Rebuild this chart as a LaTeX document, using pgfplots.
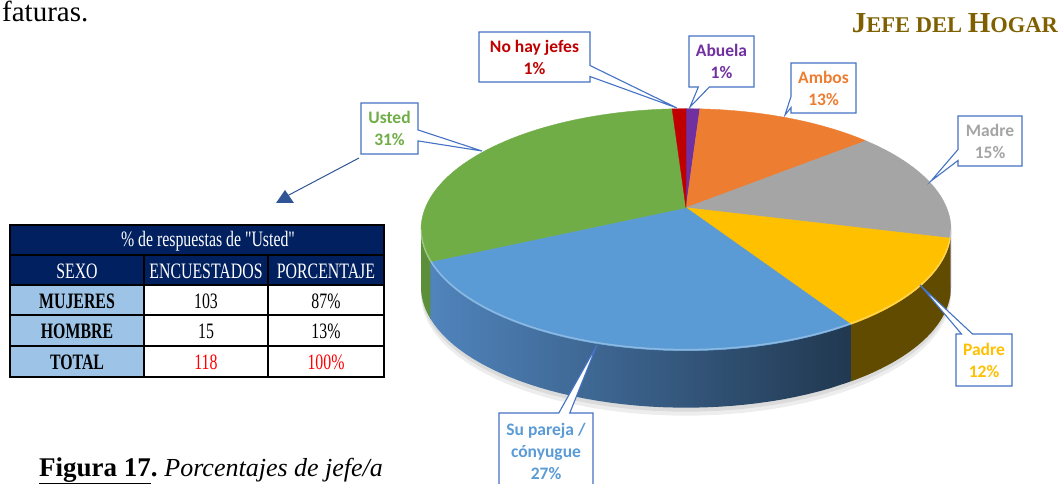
\documentclass[border=0pt]{standalone}
\usepackage{fontspec}
\setmainfont{Liberation Serif}
\newfontfamily\tabserif{Liberation Serif}[Ligatures=TeXOff]
\newfontfamily\calib{Carlito}
\usepackage{graphicx}
\usepackage{pgfplots}
\pgfplotsset{compat=1.18}
\usetikzlibrary{shapes.callouts}

\definecolor{cGreen}{HTML}{70AD47}
\definecolor{cBlue}{HTML}{5B9BD5}
\definecolor{cYellow}{HTML}{FFC000}
\definecolor{cGray}{HTML}{A5A5A5}
\definecolor{cOrange}{HTML}{ED7D31}
\definecolor{cRed}{HTML}{C00000}
\definecolor{cPurple}{HTML}{7030A0}
\definecolor{cBorder}{HTML}{4472C4}
\definecolor{cNavy}{HTML}{002060}
\definecolor{cLight}{HTML}{9DC3E6}
\definecolor{cGold}{HTML}{7F6000}
\definecolor{cArrow}{HTML}{2F5597}

% ---- data (percent of "Jefe del hogar"), clockwise from 12 o'clock ----
\def\pAbuela{1}
\def\pAmbos{13}
\def\pMadre{15}
\def\pPadre{12}
\def\pPareja{27}
\def\pUsted{31}
\def\pNoHay{1}

\pgfmathsetmacro\tA{0}
\pgfmathsetmacro\tB{\tA+3.6*\pAbuela}
\pgfmathsetmacro\tC{\tB+3.6*\pAmbos}
\pgfmathsetmacro\tD{\tC+3.6*\pMadre}
\pgfmathsetmacro\tE{\tD+3.6*\pPadre}
\pgfmathsetmacro\tF{\tE+3.6*\pPareja}
\pgfmathsetmacro\tG{\tF+3.6*\pUsted}
\pgfmathsetmacro\tH{\tG+3.6*\pNoHay}

% perspective projection of the pie's top face
\newcommand{\PX}[1]{686+260.6*sin(#1)/(1+0.1818*cos(#1))}
\newcommand{\PY}[1]{207.7-117*cos(#1)/(1+0.1818*cos(#1))}

\newcommand{\slice}[3]{%
  \addplot[fill=#3, draw=#3, line width=0.4pt, domain=#1:#2, samples=60]
    ({\PX{x}},{\PY{x}}) -- (axis cs:686,207.7) -- cycle;}
\newcommand{\side}[3]{%
  \addplot[#3, draw=none, variable=\t,
    samples at={0,0.025,...,0.975,1,1.0001,1.025,1.05,...,1.975,2}]
    ({\PX{(#1+(#2-#1)*min(\t,2-\t))}},{\PY{(#1+(#2-#1)*min(\t,2-\t))}+57*(\t>1)}) -- cycle;}

\newcommand{\tb}[1]{\scalebox{0.72}[1]{\tabserif\fontsize{22}{22}\selectfont #1}}

\tikzset{lab/.style={rectangle callout, draw=cBorder, line width=1.1pt, fill=white,
  inner sep=0pt, align=center, font=\calib\bfseries\fontsize{17.5}{22}\selectfont,
  callout pointer width=11pt}}

\begin{document}
\begin{tikzpicture}
\begin{axis}[
  scale only axis, width=1061pt, height=484pt,
  xmin=0, xmax=1061, ymin=0, ymax=484, y dir=reverse,
  hide axis, clip=false,
]
\coordinate (bbA) at (axis cs:0,0);
\coordinate (bbB) at (axis cs:1061,484);

% shadow
\addplot[fill=black!7, draw=none, domain=0:360, samples=90] ({\PX{x}},{\PY{x}+65}) -- cycle;
\addplot[fill=black!14, draw=none, domain=0:360, samples=90] ({\PX{x}},{\PY{x}+61}) -- cycle;

% visible sides
\side{100.5}{\tD}{fill=black!55}
\side{\tD}{\tE}{fill={rgb,255:red,97;green,75;blue,0}}
\side{\tE}{\tF}{left color={rgb,255:red,80;green,132;blue,188}, right color={rgb,255:red,33;green,56;blue,80}}
\side{\tF}{259.6}{fill={rgb,255:red,91;green,143;blue,57}}

% top face
\slice{\tA}{\tB}{cPurple}
\slice{\tB}{\tC}{cOrange}
\slice{\tC}{\tD}{cGray}
\slice{\tD}{\tE}{cYellow}
\slice{\tE}{\tF}{cBlue}
\slice{\tF}{\tG}{cGreen}
\slice{\tG}{\tH}{cRed}
\addplot[draw=white, opacity=0.3, line width=1.5pt, domain=101:259, samples=60] ({\PX{x}},{\PY{x}-1});

% data labels
\node[lab, text=cRed, minimum width=111pt, minimum height=50pt,
  callout absolute pointer={(axis cs:677,108)}] at (axis cs:534.5,57) {No hay jefes\\1\%};
\node[lab, text=cPurple, minimum width=65pt, minimum height=51pt,
  callout absolute pointer={(axis cs:690,107)}] at (axis cs:721.5,61.5) {Abuela\\1\%};
\node[lab, text=cOrange, minimum width=65pt, minimum height=50pt,
  callout absolute pointer={(axis cs:785,115)}] at (axis cs:823.5,88) {Ambos\\13\%};
\node[lab, text=cGray, minimum width=64pt, minimum height=50pt,
  callout absolute pointer={(axis cs:931,181)}] at (axis cs:990,141) {Madre\\15\%};
\node[lab, text=cYellow, minimum width=56pt, minimum height=52pt,
  callout absolute pointer={(axis cs:920,285)}] at (axis cs:984,360) {Padre\\12\%};
\node[lab, text=cBlue, minimum width=94pt, minimum height=76pt,
  callout absolute pointer={(axis cs:597,345)}] at (axis cs:546,451) {Su pareja /\\cónyugue\\27\%};
\node[lab, text=cGreen, minimum width=57pt, minimum height=51pt,
  callout absolute pointer={(axis cs:482,151)}] at (axis cs:389.5,128.5) {Usted\\31\%};

% arrow to the table
\draw[cArrow, line width=1pt] (axis cs:359,158) -- (axis cs:287,196);
\fill[cArrow] (axis cs:276,203) -- (axis cs:294,203) -- (axis cs:285,190) -- cycle;

% table
\fill[cNavy] (axis cs:10,225) rectangle (axis cs:384,285);
\fill[cLight] (axis cs:10,285) rectangle (axis cs:144,377);
\draw[black, line width=1.6pt] (axis cs:10,255) -- (axis cs:384,255);
\draw[black, line width=1.6pt] (axis cs:10,285) -- (axis cs:384,285);
\draw[black, line width=1.6pt] (axis cs:10,315) -- (axis cs:384,315);
\draw[black, line width=1.6pt] (axis cs:10,346) -- (axis cs:384,346);
\draw[black, line width=1.6pt] (axis cs:144,255) -- (axis cs:144,377);
\draw[black, line width=1.6pt] (axis cs:268,255) -- (axis cs:268,377);
\draw[black, line width=2.4pt] (axis cs:10,225) rectangle (axis cs:384,377);

\node[text=white] at (axis cs:208,241) {\tb{\% de respuestas de "Usted"}};
\node[text=white] at (axis cs:77,271) {\tb{SEXO}};
\node[text=white] at (axis cs:206,271) {\tb{ENCUESTADOS}};
\node[text=white] at (axis cs:326,271) {\tb{PORCENTAJE}};
\node at (axis cs:77,301) {\tb{\textbf{MUJERES}}};
\node at (axis cs:77,331) {\tb{\textbf{HOMBRE}}};
\node at (axis cs:77,362) {\tb{\textbf{TOTAL}}};
\node at (axis cs:206,301) {\tb{103}};
\node at (axis cs:206,331) {\tb{15}};
\node[text=red] at (axis cs:206,362) {\tb{118}};
\node at (axis cs:326,301) {\tb{87\%}};
\node at (axis cs:326,331) {\tb{13\%}};
\node[text=red] at (axis cs:326,362) {\tb{100\%}};

% surrounding text
\node[anchor=base west, inner sep=0pt] at (axis cs:2,22) {\fontsize{29}{29}\selectfont faturas.};
\node[anchor=base east, inner sep=0pt, text=cGold] at (axis cs:1058,33)
  {\bfseries{\fontsize{29}{29}\selectfont J}{\fontsize{22.5}{22.5}\selectfont EFE DEL }{\fontsize{29}{29}\selectfont H}{\fontsize{22.5}{22.5}\selectfont OGAR}};
\node[anchor=base west, inner sep=0pt] at (axis cs:39,476)
  {\fontsize{27}{27}\selectfont\textbf{\underline{Figura 17}.}\hspace{0.25em}{\fontsize{26}{26}\selectfont\textit{Porcentajes de jefe/a}}};
\end{axis}
\pgfresetboundingbox
\path (bbA) rectangle (bbB);
\end{tikzpicture}
\end{document}
